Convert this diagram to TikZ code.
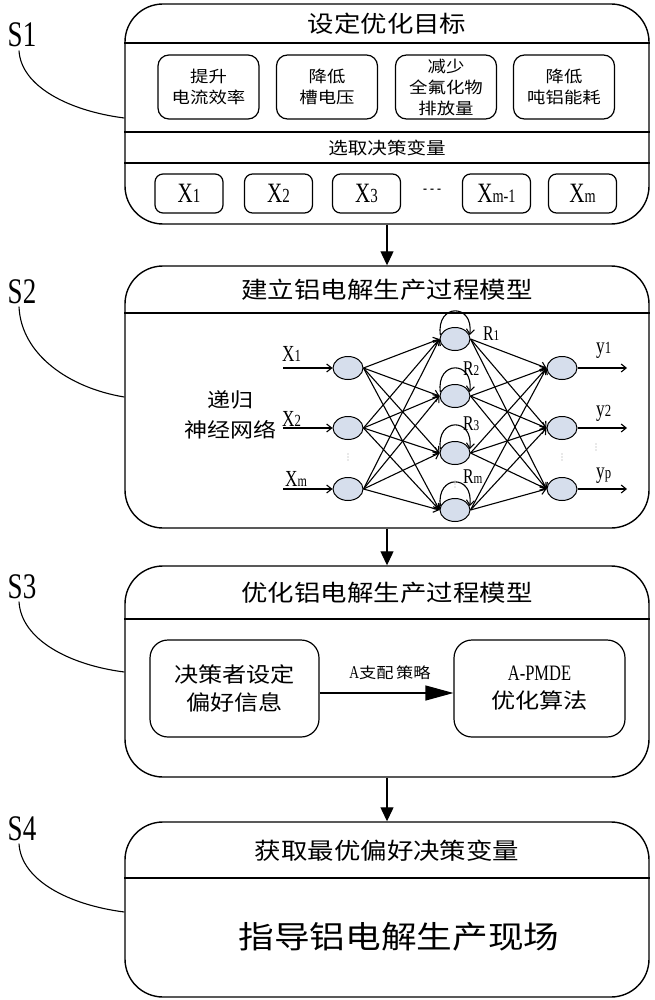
\documentclass[tikz,border=0pt]{standalone}
\usepackage{fontspec}
\setmainfont{Liberation Serif}
\newfontfamily\cjk[FakeStretch=1.15]{Noto Sans CJK SC}
\newfontfamily\latn[FakeStretch=0.75]{Liberation Serif}
\usetikzlibrary{arrows.meta,shapes.geometric,calc}
\definecolor{nodefill}{RGB}{214,222,236}
\newcommand\fs[1]{\fontsize{#1}{#1}\selectfont}
\newcommand\fsb[2]{\fontsize{#1}{#2}\selectfont}
\begin{document}
\begin{tikzpicture}[x=1pt,y=-1pt,
  bigbox/.style={draw,line width=1.4pt,rounded corners=38pt,minimum width=524pt,inner sep=0pt},
  goalbox/.style={draw,line width=1.2pt,rounded corners=11pt,minimum width=101pt,minimum height=64pt,inner sep=0pt,align=center,font=\cjk\fsb{16}{21}},
  xbox/.style={draw,line width=1.2pt,rounded corners=8pt,minimum width=68pt,minimum height=39pt,inner sep=0pt,font=\latn\fs{28}},
  decbox/.style={draw,line width=1.2pt,rounded corners=18pt,minimum height=97pt,inner sep=0pt,align=center,font=\cjk\fsb{21}{28}},
  ttl/.style={font=\cjk\fs{23},inner sep=0pt},
  neuron/.style={ellipse,draw,line width=1pt,fill=nodefill,minimum width=30pt,minimum height=23pt,inner sep=0pt},
  nn/.style={line width=1.1pt,-{Straight Barb[length=5pt,width=8pt]}},
  flow/.style={line width=1.2pt,-{Triangle[length=14pt,width=13pt]}},
  bigarrow/.style={line width=1.2pt,-{Triangle[length=28pt,width=15pt]}},
  lead/.style={line width=1.1pt},
  slab/.style={font=\latn\fs{36},inner sep=0pt},
  nnlab/.style={font=\latn\fs{23},inner sep=0pt},
  rlab/.style={font=\latn\fs{21},inner sep=0pt,anchor=base west},
  sep/.style={line width=1.2pt},
]
\useasboundingbox (0,0) rectangle (654,1000);

% ---------- main boxes
\node[bigbox,minimum height=220pt] (s1) at (387,114) {};
\node[bigbox,minimum height=262pt] (s2) at (387,397) {};
\node[bigbox,minimum height=211pt] (s3) at (387,671.5) {};
\node[bigbox,minimum height=175pt] (s4) at (387,909.5) {};

\foreach \n/\y in {s1/43,s1/132,s1/163,s2/313,s3/619,s4/878} {
  \coordinate (tmp) at (0,\y);
  \draw[sep] (\n.west |- tmp) -- (\n.east |- tmp);
}

% ---------- titles
\node[ttl] (t1) at (387,24) {设定优化目标};
\node[ttl] (t2) at (387,290) {建立铝电解生产过程模型};
\node[ttl] (t3) at (387,593) {优化铝电解生产过程模型};
\node[ttl] (t4) at (387,851) {获取最优偏好决策变量};

% ---------- S1 content
\node[goalbox] (g1) at (208.5,87) {提升\\电流效率};
\node[goalbox] (g2) at (327,87) {降低\\槽电压};
\node[goalbox] (g3) at (446,87) {减少\\全氟化物\\排放量};
\node[goalbox] (g4) at (564,87) {降低\\吨铝能耗};

\node[font=\cjk\fs{17},inner sep=0pt] (sel) at (387,148) {选取决策变量};

\node[xbox] (x1) at (189,193.5) {X{\fs{20}1}};
\node[xbox] (x2) at (278.5,193.5) {X{\fs{20}2}};
\node[xbox] (x3) at (366.5,193.5) {X{\fs{20}3}};
\node[font=\latn\fs{16},inner sep=0pt] (dots) at (432,191) {- - -};
\node[xbox] (x4) at (496.5,193.5) {X{\fs{19}m-1}};
\node[xbox] (x5) at (582.5,193.5) {X{\fs{19}m}};

% ---------- S2 content: recurrent neural network
\node[font=\cjk\fsb{20}{30},align=center,inner sep=0pt] (rnn) at (230,415) {递归\\神经网络};

\node[neuron] (i1) at (348,368) {};
\node[neuron] (i2) at (348,428) {};
\node[neuron] (i3) at (348,489) {};
\node[neuron] (h1) at (455,339) {};
\node[neuron] (h2) at (455,396) {};
\node[neuron] (h3) at (455,453) {};
\node[neuron] (h4) at (455,510) {};
\node[neuron] (o1) at (562,368) {};
\node[neuron] (o2) at (562,428) {};
\node[neuron] (o3) at (562,489) {};

\foreach \a in {i1,i2,i3}
  \foreach \b in {h1,h2,h3,h4}
    \draw[nn] (\a.east) -- (\b.west);
\foreach \b in {h1,h2,h3,h4}
  \foreach \c in {o1,o2,o3}
    \draw[nn] (\b.east) -- (\c.west);
\foreach \b in {h1,h2,h3,h4}
  \draw[nn] (\b.165) .. controls ($(\b.center)+(-19,-36)$) and ($(\b.center)+(19,-36)$) .. (\b.15);

\coordinate (a1) at (283,368);
\coordinate (a2) at (283,428);
\coordinate (a3) at (283,489);
\coordinate (b1) at (627,368);
\coordinate (b2) at (627,428);
\coordinate (b3) at (627,489);
\draw[nn] (a1) -- (i1.west);
\draw[nn] (a2) -- (i2.west);
\draw[nn] (a3) -- (i3.west);
\draw[nn] (o1.east) -- (b1);
\draw[nn] (o2.east) -- (b2);
\draw[nn] (o3.east) -- (b3);

\node[nnlab,anchor=base west] (lx1) at (282,361) {X{\fs{17}1}};
\node[nnlab,anchor=base west] (lx2) at (282,426) {X{\fs{17}2}};
\node[nnlab,anchor=base west] (lx3) at (285,486) {X{\fs{16}m}};
\node[nnlab,anchor=base west] (ly1) at (596,353) {y{\fs{17}1}};
\node[nnlab,anchor=base west] (ly2) at (596,416) {y{\fs{17}2}};
\node[nnlab,anchor=base west] (ly3) at (596,478) {y{\fs{17}p}};
\node[rlab] (r1) at (483,340) {R{\fs{15}1}};
\node[rlab] (r2) at (463,375) {R{\fs{15}2}};
\node[rlab] (r3) at (463,430) {R{\fs{15}3}};
\node[rlab] (r4) at (463,483) {R{\fs{15}m}};

% faint dots
\foreach \px/\py in {348/457,562/457,596/447,455/484}
  \foreach \d in {-3,0,3}
    \fill[gray!35] (\px,\py+\d) circle (0.8);

% ---------- S3 content
\node[decbox,minimum width=169pt] (d1) at (234.5,688.5) {决策者设定\\偏好信息};
\node[decbox,minimum width=171pt] (d2) at (539.5,688.5) {{\latn\fs{22}A-PMDE}\\优化算法};
\draw[bigarrow] ([yshift=-4.5pt]d1.east) -- ([yshift=-4.5pt]d2.west);
\node[font=\cjk\fs{15},inner sep=0pt] (al) at (390,673) {{\latn\fs{18}A}支配\,策略};

% ---------- S4 content
\node[font=\cjk\fs{31},inner sep=0pt] (guide) at (399,937) {指导铝电解生产现场};

% ---------- flow arrows
\draw[flow] (s1.south) -- (s2.north);
\draw[flow] (s2.south) -- (s3.north);
\draw[flow] (s3.south) -- (s4.north);

% ---------- step labels and leaders
\node[slab,anchor=base] (l1) at (22,47) {S1};
\node[slab,anchor=base] (l2) at (22,303) {S2};
\node[slab,anchor=base] (l3) at (22,598) {S3};
\node[slab,anchor=base] (l4) at (22,840) {S4};
\coordinate (e1) at (0,118);
\coordinate (e2) at (0,397);
\coordinate (e3) at (0,672);
\coordinate (e4) at (0,912);
\draw[lead] ([xshift=-3pt,yshift=-3pt]l1.south) .. controls +(2,36) and +(-55,-7) .. (s1.west |- e1);
\draw[lead] ([xshift=-3pt,yshift=-3pt]l2.south) .. controls +(2,48) and +(-55,-9) .. (s2.west |- e2);
\draw[lead] ([xshift=-3pt,yshift=-3pt]l3.south) .. controls +(2,38) and +(-55,-7) .. (s3.west |- e3);
\draw[lead] ([xshift=-3pt,yshift=-3pt]l4.south) .. controls +(2,37) and +(-55,-7) .. (s4.west |- e4);
\end{tikzpicture}
\end{document}
